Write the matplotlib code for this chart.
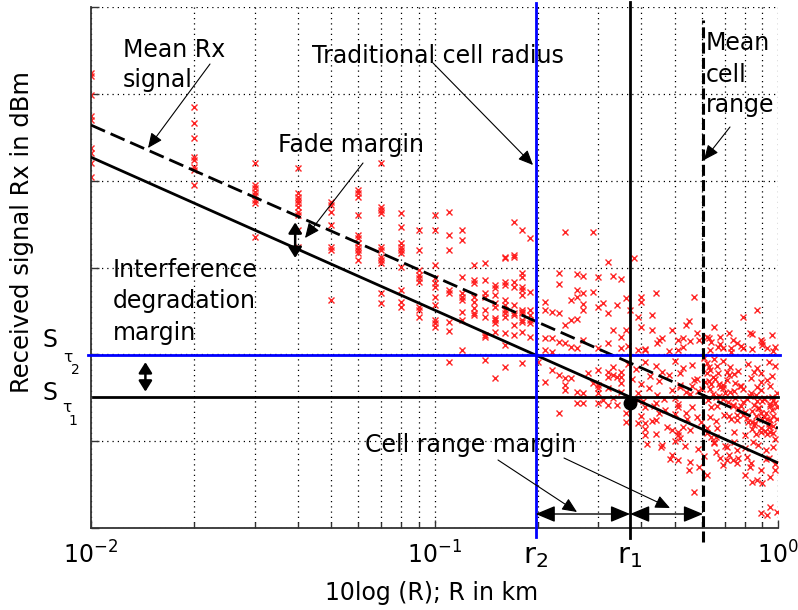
import matplotlib
matplotlib.use("Agg")
import matplotlib.pyplot as plt
from matplotlib.transforms import blended_transform_factory, ScaledTranslation

plt.rcParams['font.family'] = ['DejaVu Sans']
plt.rcParams['mathtext.fontset'] = 'dejavusans'
plt.rcParams['mathtext.default'] = 'regular'

# ---------------- data ----------------
X_LIM = [0.01, 1.0]
Y_LIM = [0, 60]
Y_GRID = [0, 10, 20, 30, 40, 50, 60]
X_MAJOR = [0.01, 0.1, 1.0]
X_MAJOR_LABELS = [r'$10^{-2}$', r'$10^{-1}$', r'$10^{0}$']

MEAN_R = [0.01, 1.0]
MEAN_DB = [46.4, 11.5]
EDGE_R = [0.01, 1.0]
EDGE_DB = [42.7, 7.5]

S_TAU2 = 19.9
S_TAU1 = 15.1
R2 = 0.197
R1 = 0.371
R_MEAN = 0.605

# near-field measurement columns (R in km, received level)
COL_R = [0.01, 0.02, 0.03, 0.04, 0.05, 0.06, 0.07, 0.08, 0.09, 0.10,
         0.11, 0.12, 0.13, 0.14, 0.15, 0.16, 0.17, 0.18, 0.19]
COL_DB = [
    [52.4, 52.0, 49.9, 47.5, 47.0, 43.8, 43.2, 42.0, 40.4],
    [48.5, 46.6, 44.9, 42.7, 42.4, 41.6, 41.2, 39.5],
    [42.0, 39.5, 39.2, 38.7, 38.4, 37.8, 37.4, 33.5],
    [41.5, 38.6, 38.1, 37.8, 37.4, 37.0, 36.4, 36.0, 34.3, 32.4],
    [37.5, 37.2, 36.4, 34.9, 32.4, 32.0, 26.3],
    [38.9, 38.6, 38.1, 36.0, 33.7, 33.4, 32.8, 32.4, 32.0, 31.7, 30.9],
    [42.0, 37.0, 36.6, 36.3, 32.4, 32.0, 31.2, 30.9, 30.5, 27.1, 25.9],
    [36.3, 34.7, 32.8, 32.4, 32.0, 31.7, 30.1, 27.4, 26.0, 25.5],
    [34.3, 32.0, 29.7, 29.1, 28.8, 28.3, 25.5, 25.1, 24.3],
    [36.0, 34.3, 30.3, 28.8, 28.2, 27.8, 26.6, 25.7, 24.0, 23.6, 23.1],
    [36.4, 33.7, 32.0, 27.4, 27.1, 23.7, 22.7, 19.1],
    [34.3, 33.2, 28.9, 27.1, 26.6, 26.3, 24.9, 24.0, 20.5],
    [30.3, 28.6, 28.2, 26.6, 26.0, 25.3, 24.8, 24.5],
    [30.5, 28.6, 27.1, 26.6, 25.1, 24.3, 22.2, 22.0, 19.3],
    [28.0, 27.6, 26.8, 25.9, 25.5, 24.2, 24.0, 23.6, 22.6, 17.3],
    [31.2, 31.1, 28.3, 28.0, 26.3, 25.7, 25.1, 24.8, 24.3, 22.5, 21.1, 18.5],
    [35.2, 31.4, 31.2, 28.3, 27.8, 25.7, 24.8, 24.5, 23.4, 22.2],
    [34.3, 29.4, 28.9, 27.8, 27.4, 26.8, 25.1, 24.9, 24.8, 24.0, 23.7, 22.6, 19.0],
    [33.4, 27.2, 25.1, 24.5, 24.0, 23.6, 22.0],
]

# samples between r2 and r1
MID_PTS = [
    (0.24, 34.1), (0.29, 34.1), (0.32, 30.6), (0.23, 29.4), (0.26, 29.3), (0.27, 29.0),
    (0.30, 28.9), (0.33, 29.0), (0.35, 28.7), (0.23, 28.1), (0.26, 27.4), (0.27, 27.1),
    (0.29, 27.2), (0.36, 26.5), (0.34, 25.7), (0.32, 24.8), (0.31, 25.9), (0.30, 25.5),
    (0.27, 25.1), (0.26, 24.1), (0.25, 24.0), (0.24, 23.4), (0.23, 24.8), (0.22, 24.9),
    (0.21, 26.0), (0.21, 25.1), (0.21, 21.9), (0.22, 21.9), (0.24, 21.3), (0.26, 26.6),
    (0.25, 26.3), (0.27, 25.8), (0.33, 22.8), (0.35, 22.0), (0.36, 22.8), (0.32, 21.3),
    (0.30, 20.7), (0.27, 21.7), (0.26, 20.7), (0.25, 20.8), (0.23, 21.4), (0.21, 20.5),
    (0.22, 20.3), (0.35, 20.7),
    (0.20, 19.1), (0.21, 16.8), (0.22, 18.2), (0.24, 16.5), (0.25, 17.3), (0.26, 14.4),
    (0.27, 14.4), (0.27, 15.5), (0.29, 16.7), (0.30, 15.5), (0.32, 17.4), (0.33, 18.5),
    (0.35, 17.4), (0.23, 13.2), (0.30, 14.4), (0.33, 15.0), (0.35, 15.7), (0.36, 13.2),
    (0.24, 17.3), (0.31, 14.7), (0.32, 14.2), (0.34, 14.2), (0.36, 12.2), (0.30, 16.5),
    (0.32, 16.1), (0.34, 17.4), (0.35, 16.7), (0.23, 17.6), (0.26, 15.7), (0.28, 17.9),
    (0.30, 18.2), (0.32, 18.0), (0.33, 17.6), (0.35, 18.0), (0.30, 16.1), (0.24, 15.9),
]

# samples beyond r1, above S_tau2
FAR_HIGH_PTS = [
    (0.38, 31.1), (0.40, 26.6), (0.44, 27.1), (0.57, 26.6), (0.40, 26.0), (0.87, 25.1),
    (0.79, 24.3), (0.55, 23.8), (0.43, 24.5), (0.39, 24.3), (0.37, 25.1), (0.40, 23.1),
    (0.43, 22.8), (0.45, 21.7), (0.46, 21.9), (0.49, 22.8), (0.51, 21.7), (0.53, 21.9),
    (0.58, 22.5), (0.59, 21.7), (0.65, 23.1), (0.68, 22.0), (0.74, 21.7), (0.84, 22.3),
    (0.90, 21.1), (0.98, 20.8), (0.79, 20.7), (0.73, 20.7), (0.69, 20.7), (0.63, 21.9),
    (0.51, 20.5), (0.41, 20.5), (0.39, 20.5), (0.62, 22.0), (0.64, 21.4), (0.67, 20.8),
    (0.72, 22.5), (0.76, 21.3), (0.83, 22.5), (0.89, 21.7), (0.93, 20.7), (0.54, 23.4),
    (0.96, 22.2), (0.365, 21.0), (0.41, 20.6), (0.445, 21.3), (0.48, 20.4), (0.53, 20.9),
    (0.555, 21.5), (0.635, 20.5), (0.68, 21.2), (0.73, 20.3), (0.78, 21.0), (0.84, 20.6),
    (0.90, 21.4), (0.965, 20.4),
]

# dense cloud beyond r1, below S_tau2
FAR_BAND_R = [
    0.365, 0.385, 0.41, 0.44, 0.46, 0.50, 0.53, 0.56, 0.62, 0.635, 0.665, 0.69, 0.725, 0.765, 0.82, 0.87, 0.94, 0.98,
    0.375, 0.40, 0.425, 0.45, 0.48, 0.52, 0.57, 0.615, 0.645, 0.675, 0.71, 0.745, 0.78, 0.835, 0.89, 0.96, 0.63, 0.655, 0.69, 0.72, 0.75,
    0.39, 0.42, 0.445, 0.49, 0.52, 0.555, 0.585, 0.635, 0.675, 0.725, 0.775, 0.835, 0.895, 0.96, 0.99, 0.645, 0.69, 0.745, 0.865,
    0.405, 0.435, 0.465, 0.51, 0.56, 0.625, 0.665, 0.715, 0.765, 0.81, 0.85, 0.90, 0.945, 0.98, 0.64, 0.69, 0.74, 0.79, 0.875,
    0.40, 0.43, 0.50, 0.545, 0.595, 0.635, 0.695, 0.76, 0.81, 0.855, 0.895, 0.93, 0.97, 0.66, 0.73, 0.79, 0.84, 0.91, 0.95,
    0.41, 0.44, 0.475, 0.51, 0.555, 0.62, 0.665, 0.745, 0.80, 0.84, 0.895, 0.94, 0.865, 0.915, 0.97,
    0.415, 0.455, 0.50, 0.535, 0.585, 0.65, 0.70, 0.745, 0.80, 0.875, 0.965, 0.845, 0.92,
    0.485, 0.555, 0.61, 0.71, 0.765, 0.835, 0.92, 0.98,
]
FAR_BAND_DB = [
    18.9, 18.3, 19.1, 18.6, 18.0, 19.2, 18.4, 18.8, 19.0, 18.2, 18.7, 19.2, 18.5, 18.1, 18.9, 18.4, 19.1, 18.6,
    17.2, 16.6, 17.5, 16.9, 17.6, 16.5, 17.1, 16.8, 17.4, 16.6, 17.0, 17.7, 16.4, 17.3, 16.8, 17.5, 16.9, 17.2, 16.5, 17.6, 16.7,
    15.6, 16.1, 15.3, 15.9, 16.2, 15.4, 15.8, 16.0, 15.2, 15.7, 16.3, 15.5, 15.9, 15.1, 15.6, 15.4, 16.1, 15.8, 15.3,
    14.6, 14.0, 14.8, 14.3, 13.9, 14.7, 14.1, 14.5, 13.8, 14.9, 14.2, 14.6, 14.0, 14.4, 13.9, 14.8, 14.2, 14.5, 13.8,
    12.9, 12.3, 13.1, 12.6, 12.2, 12.8, 13.0, 12.4, 12.7, 12.1, 13.2, 12.5, 12.9, 12.3, 12.6, 13.0, 12.2, 12.8, 12.4,
    11.4, 10.8, 11.6, 11.0, 11.3, 10.9, 11.5, 11.1, 10.7, 11.4, 11.0, 11.6, 10.8, 11.2, 10.9,
    9.7, 9.3, 10.0, 9.5, 9.1, 9.8, 9.4, 9.9, 9.2, 9.6, 9.3, 9.9, 9.0,
    8.0, 7.6, 8.3, 7.8, 8.1, 7.5, 7.9, 7.4,
]

# sparse samples below the cell-edge line and extra dense samples
FAR_LOW_PTS = [
    (0.39, 12.1), (0.41, 12.1), (0.41, 10.7), (0.44, 12.4), (0.45, 13.2), (0.46, 9.6),
    (0.49, 11.3), (0.51, 10.7), (0.52, 10.4), (0.53, 11.6), (0.49, 8.4), (0.51, 7.8),
    (0.55, 6.7), (0.57, 4.1), (0.59, 7.0), (0.62, 6.1), (0.64, 10.5), (0.65, 9.9),
    (0.68, 8.1), (0.69, 7.3), (0.72, 8.4), (0.74, 7.8), (0.76, 7.5), (0.80, 6.1),
    (0.83, 7.0), (0.84, 5.3), (0.87, 5.5), (0.89, 6.7), (0.90, 5.2), (0.95, 5.9),
    (0.89, 1.7), (0.93, 1.5), (0.95, 2.4), (0.99, 1.8), (0.98, 6.7), (0.94, 8.1),
    (0.81, 8.2), (0.76, 9.0), (0.71, 9.3), (0.66, 10.5), (0.66, 8.8), (0.62, 11.5),
    (0.58, 12.8), (0.54, 13.2), (0.51, 13.9), (0.47, 13.6), (0.44, 14.4), (0.41, 13.9),
    (0.39, 14.7),
    (0.84, 13.5), (0.86, 12.9), (0.88, 13.8), (0.90, 12.5), (0.92, 13.3), (0.94, 12.0),
    (0.96, 13.6), (0.97, 11.8), (0.99, 12.6), (0.85, 11.9), (0.89, 11.5), (0.93, 10.8),
    (0.95, 11.1), (0.98, 10.3), (0.87, 14.6), (0.91, 14.9), (0.95, 14.3), (0.99, 13.9),
    (0.82, 12.2), (0.80, 13.4), (0.78, 14.1), (0.76, 13.0), (0.74, 14.0), (0.72, 12.9),
    (0.70, 15.6), (0.68, 16.2), (0.66, 15.1), (0.64, 16.6), (0.62, 17.8), (0.60, 16.0),
    (0.58, 17.2), (0.56, 16.4), (0.54, 15.7), (0.52, 17.9), (0.50, 15.0), (0.63, 18.5),
    (0.65, 19.5), (0.61, 19.6), (0.67, 17.9), (0.71, 18.0), (0.75, 15.0), (0.79, 16.0),
    (0.83, 15.2), (0.87, 16.2), (0.91, 15.0), (0.95, 16.4), (0.97, 14.7), (0.93, 17.0),
    (0.89, 17.8), (0.85, 18.0),
]

# ---------------- figure ----------------
W, H = 798, 610
fig = plt.figure(figsize=(W / 100, H / 100), dpi=100)
AX_L, AX_R, AX_T, AX_B = 91, 778, 7, 528
ax = fig.add_axes([AX_L / W, (H - AX_B) / H, (AX_R - AX_L) / W, (AX_B - AX_T) / H])
ax.set_xscale('log')
ax.set_xlim(X_LIM)
ax.set_ylim(Y_LIM)

ax.set_xticks(X_MAJOR)
ax.set_xticklabels(X_MAJOR_LABELS)
ax.set_yticks(Y_GRID)
ax.set_yticklabels([''] * len(Y_GRID))
ax.tick_params(which='major', direction='in', length=6, width=1.0, color='#333333',
               labelsize=17, pad=10)
ax.tick_params(which='minor', direction='in', length=4, width=1.0, color='#333333')
ax.tick_params(axis='x', which='minor', labelbottom=False)
for s in ('top', 'right'):
    ax.spines[s].set_visible(False)
for s in ('left', 'bottom'):
    ax.spines[s].set_color('#333333')
    ax.spines[s].set_linewidth(1.3)

ax.set_axisbelow(True)
grid_kw = dict(color='black', linestyle=(0, (1, 3.2)), linewidth=0.9)
ax.grid(True, which='both', axis='x', **grid_kw)
ax.grid(True, which='major', axis='y', **grid_kw)

# scatter of measurements
sx, sy = [], []
for r, col in zip(COL_R, COL_DB):
    for v in col:
        sx.append(r)
        sy.append(v)
for r, v in MID_PTS + FAR_HIGH_PTS + FAR_LOW_PTS:
    sx.append(r)
    sy.append(v)
sx += FAR_BAND_R
sy += FAR_BAND_DB
ax.plot(sx, sy, linestyle='none', marker='x', markersize=4.2, markeredgewidth=1.0,
        color='#ff1a1a', alpha=0.95, zorder=2)

# propagation lines
ax.plot(MEAN_R, MEAN_DB, color='black', lw=2.0, dashes=(5.5, 2.2), zorder=3)
ax.plot(EDGE_R, EDGE_DB, color='black', lw=2.0, zorder=3)

xtr = blended_transform_factory(ax.transData, ax.transAxes)
ytr = blended_transform_factory(ax.transAxes, ax.transData)

def fy(py):
    return (AX_B - py) / (AX_B - AX_T)

def fx(px):
    return (px - AX_L) / (AX_R - AX_L)

# thresholds
ax.plot([fx(88), fx(780)], [S_TAU2, S_TAU2], color='#0000ff', lw=2.0, transform=ytr,
        clip_on=False, zorder=4)
ax.plot([fx(93), 1.0], [S_TAU1, S_TAU1], color='black', lw=2.0, transform=ytr,
        clip_on=False, zorder=4)
# radii
ax.plot([R2, R2], [fy(537), fy(3)], color='#0000ff', lw=2.0, transform=xtr,
        clip_on=False, zorder=4)
ax.plot([R1, R1], [fy(538), fy(2)], color='black', lw=2.0, transform=xtr,
        clip_on=False, zorder=4)
ax.plot([R_MEAN, R_MEAN], [fy(542), fy(20)], color='black', lw=2.2, dashes=(3.6, 1.4),
        transform=xtr, clip_on=False, zorder=4)

# operating point
ax.plot([R1], [S_TAU1], 'o', color='black', markersize=9, zorder=5,
        transform=ax.transData + ScaledTranslation(0, -0.06, fig.dpi_scale_trans))

# ---------------- texts ----------------
FS = 17
def label(px, py, s, **kw):
    ax.text(fx(px), fy(py), s, transform=ax.transAxes, fontsize=kw.pop('fs', FS),
            ha=kw.pop('ha', 'left'), va=kw.pop('va', 'baseline'), clip_on=False, **kw)

label(123, 57, 'Mean Rx')
label(123, 87, 'signal')
label(312, 63, 'Traditional cell radius')
label(278, 152, 'Fade margin')
label(113, 277, 'Interference')
label(113, 308, 'degradation')
label(113, 340, 'margin')
label(706, 50, 'Mean')
label(706, 82, 'cell')
label(706, 112, 'range')
label(365, 452, 'Cell range margin')

# y labels S_tau
label(43, 347, 'S', fs=17)
label(68, 358, 'τ', fs=11, ha='center', va='center')
label(75, 370, '2', fs=10, ha='center', va='center')
label(43, 400, 'S', fs=17)
label(67, 408, 'τ', fs=11, ha='center', va='center')
label(73, 421, '1', fs=10, ha='center', va='center')

# r labels
ax.text(R2, fy(563), r'$r_2$', transform=xtr, fontsize=21, ha='center', va='baseline',
        clip_on=False)
ax.text(R1, fy(563), r'$r_1$', transform=xtr, fontsize=21, ha='center', va='baseline',
        clip_on=False)

fig.text(22 / W, (H - 232) / H, 'Received signal Rx in dBm', rotation=90, fontsize=17.5,
         ha='center', va='center')
fig.text(432 / W, (H - 593) / H, '10log (R); R in km', fontsize=17, ha='center',
         va='center')

# ---------------- arrows ----------------
def arrow(tail, tip, style='-|>', lw=0.8, hl=0.45, hw=0.2, ms=20,
          tcoords=None, hcoords=None):
    tcoords = tcoords or ax.transAxes
    hcoords = hcoords or ax.transAxes
    ax.annotate('', xy=tip, xycoords=hcoords, xytext=tail, textcoords=tcoords,
                arrowprops=dict(arrowstyle=f'{style},head_length={hl},head_width={hw}',
                                lw=lw, color='black', shrinkA=0, shrinkB=0,
                                mutation_scale=ms),
                annotation_clip=False, zorder=6)

arrow((fx(210), fy(64)), (fx(148), fy(148)))
arrow((fx(433), fy(63)), (fx(533), fy(165)))
arrow((fx(730), fy(127)), (fx(704), fy(160)))
arrow((fx(363), fy(163)), (fx(305), fy(238)))
arrow((fx(498), fy(460)), (fx(577), fy(512)))
arrow((fx(564), fy(458)), (fx(670), fy(508)))

# double arrows
arrow((0.0393, 35.2), (0.0393, 31.1), style='<|-|>', lw=1.8, hl=0.32, hw=0.2,
      tcoords=ax.transData, hcoords=ax.transData)
arrow((0.0144, 19.1), (0.0144, 15.7), style='<|-|>', lw=1.8, hl=0.32, hw=0.2,
      tcoords=ax.transData, hcoords=ax.transData)
arrow((R2, fy(514)), (R1, fy(514)), style='<|-|>', lw=1.0, hl=0.6, hw=0.25,
      tcoords=xtr, hcoords=xtr)
arrow((R1, fy(514)), (R_MEAN, fy(514)), style='<|-|>', lw=1.0, hl=0.6, hw=0.25,
      tcoords=xtr, hcoords=xtr)

fig.savefig('out.png', dpi=100, facecolor='white')
